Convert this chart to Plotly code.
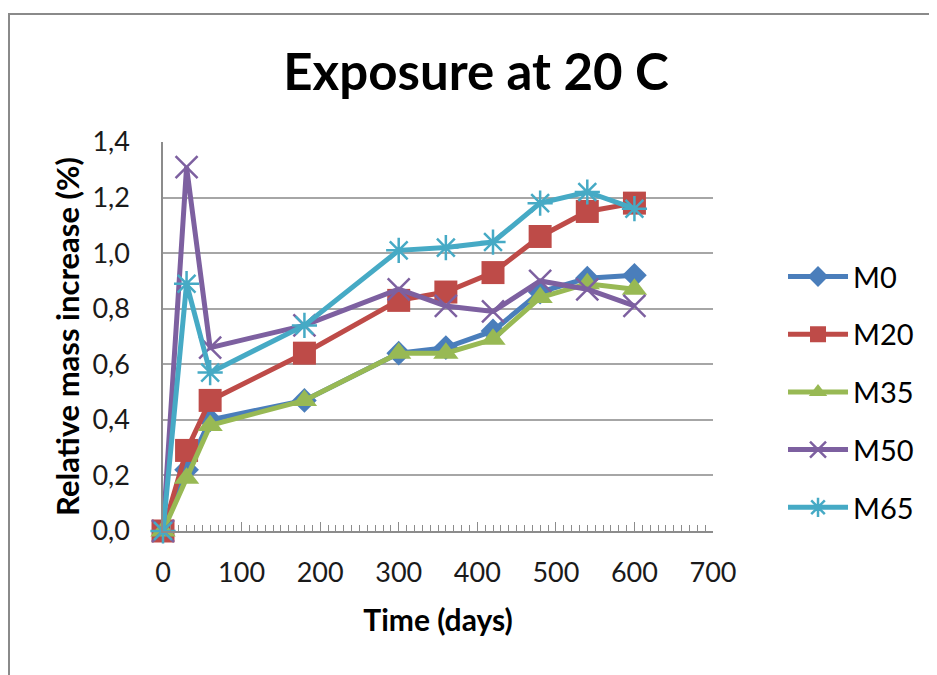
import plotly.graph_objects as go

days = [0, 30, 60, 180, 300, 360, 420, 480, 540, 600]
M0 = [0.0, 0.22, 0.40, 0.47, 0.64, 0.66, 0.72, 0.86, 0.91, 0.92]
M20 = [0.0, 0.29, 0.47, 0.64, 0.83, 0.86, 0.93, 1.06, 1.15, 1.18]
M35 = [0.0, 0.19, 0.38, 0.47, 0.64, 0.64, 0.69, 0.84, 0.89, 0.87]
M50 = [0.0, 1.31, 0.66, 0.74, 0.87, 0.81, 0.79, 0.90, 0.87, 0.81]
M65 = [0.0, 0.89, 0.57, 0.74, 1.01, 1.02, 1.04, 1.18, 1.22, 1.16]

series_names = ["M0", "M20", "M35", "M50", "M65"]
series_values = [M0, M20, M35, M50, M65]
colors = ["#4A7EBB", "#BE4B48", "#98B954", "#7D60A0", "#46AAC5"]
symbols = ["diamond", "square", "triangle-up", "x-thin-open", "asterisk-open"]
sizes = [19, 23, 22, 22, 21]

FONT = "Lato"

fig = go.Figure()
for name, vals, col, sym, sz in zip(series_names, series_values, colors, symbols, sizes):
    open_sym = sym.endswith("open")
    fig.add_trace(go.Scatter(
        x=days, y=vals, name=name, mode="lines+markers",
        legendgroup=name,
        line=dict(color=col, width=5),
        marker=dict(symbol=sym, size=sz, color=col,
                    line=dict(color=col, width=2.5 if open_sym else 0)),
        cliponaxis=False,
    ))

fig.update_layout(
    width=937, height=675,
    paper_bgcolor="white", plot_bgcolor="white",
    margin=dict(l=155, r=232, t=134, b=152),
    separators=", ",
    font=dict(family=FONT, color="#1a1a1a", size=27),
    title=dict(text="<b>Exposure at 20 C</b>", x=0.4995, xanchor="center",
               y=0.905, yanchor="middle", font=dict(size=51, family=FONT, color="black")),
    showlegend=True,
    legend=dict(x=1.1273, y=0.357, xanchor="left", yanchor="middle",
                tracegroupgap=17, font=dict(size=29, family=FONT, color="black"),
                itemwidth=60),
    xaxis=dict(range=[0, 700], dtick=100, tick0=0, showgrid=False,
               showline=True, linecolor="#8c8c8c", linewidth=1.5,
               ticks="inside", ticklen=9, tickcolor="#8c8c8c",
               ticklabelstandoff=17,
               minor=dict(dtick=10, ticks="inside", ticklen=6, tickcolor="#8c8c8c"),
               tickfont=dict(size=27, family=FONT, color="#1a1a1a"),
               title=dict(text="<b>Time (days)</b>", font=dict(size=30, family=FONT, color="black"),
                          standoff=23),
               zeroline=False),
    yaxis=dict(range=[0, 1.4], dtick=0.2, tickformat=".1f",
               showgrid=True, gridcolor="#a6a6a6", gridwidth=1.5,
               showline=True, linecolor="#8c8c8c", linewidth=1.5,
               ticks="", ticklabelstandoff=26,
               tickfont=dict(size=27, family=FONT, color="#1a1a1a"),
               title=dict(text="<b>Relative mass increase (%)</b>",
                          font=dict(size=31, family=FONT, color="black"), standoff=4),
               zeroline=False),
    shapes=[dict(type="rect", xref="paper", yref="paper",
                 x0=-0.2800, x1=2.0, y0=-1.0, y1=1.329,
                 line=dict(color="#8a8a8a", width=2), layer="below")],
)

fig.write_html("out.html")
